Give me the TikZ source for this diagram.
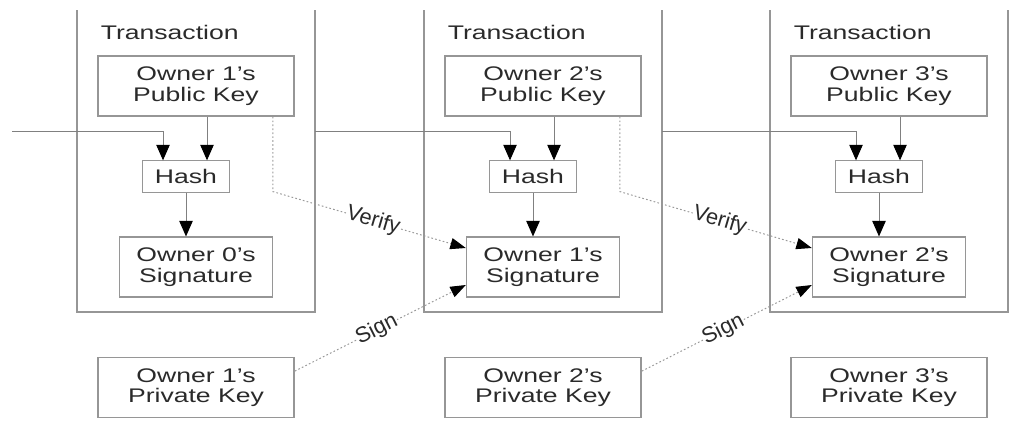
\documentclass[tikz,border=0pt]{standalone}
\usepackage{fontspec}
\setmainfont{Liberation Sans}
\usetikzlibrary{arrows.meta,calc}
\definecolor{linegray}{HTML}{808080}
\definecolor{boxgray}{HTML}{969696}
\definecolor{textgray}{HTML}{2A2A2A}
\tikzset{
  box/.style={draw=boxgray, line width=0.8pt, text=textgray, align=center,
    inner sep=0pt, xscale=1.35, font=\fontsize{14}{14.5}\selectfont},
  txframe/.style={draw=boxgray, line width=1pt},
  tree/.style={draw=linegray, line width=0.7pt,
    -{Triangle[length=11pt,width=9.5pt,color=black]}},
  check/.style={draw=linegray!80, line width=0.7pt, dash pattern=on 1.2pt off 1.6pt,
    -{Triangle[length=11pt,width=8pt,color=black]}},
  lbl/.style={sloped, fill=white, inner sep=0.5pt, text=textgray,
    font=\fontsize{15.5}{15.5}\selectfont}
}

\begin{document}
\begin{tikzpicture}[x=0.025cm, y=-0.025cm]
\useasboundingbox (0,0) rectangle (1013,424);
\coordinate (out0) at (12,131);
\foreach \n/\cx [evaluate=\n as \prev using int(\n-1)] in {1/196, 2/543, 3/889}
{
  % transaction frame, open at the top
  \draw[txframe] (\cx-119,10) |- (\cx+119,312) -- (\cx+119,10);
  \node[box, draw=none, anchor=west] (tx\n) at (\cx-96,32) {Transaction};
  \node[box, minimum width=3.63cm, minimum height=1.5cm] (pk\n) at (\cx,86) {Owner \n's\\Public Key};
  \node[box, minimum width=1.61cm, minimum height=0.78cm] (hash\n) at (\cx-10,176.5) {Hash};
  \node[box, minimum width=2.83cm, minimum height=1.5cm] (sig\prev) at (\cx,267) {Owner \prev's\\Signature};
  \node[box, minimum width=3.63cm, minimum height=1.52cm] (priv\n) at (\cx,387.5) {Owner \n's\\Private Key};
  \coordinate (out\n) at (\cx+119,131);
  \coordinate (hl\n) at ($(hash\n.north)+(-23,0)$);
  \coordinate (hr\n) at ($(hash\n.north)+(21,0)$);
  \draw[tree] (out\prev) -| (hl\n);
  \draw[tree] (pk\n.south -| hr\n) -- (hr\n);
  \draw[tree] (hash\n.south) -- (hash\n.south |- sig\prev.north);
}
% signing and verifying
\foreach \n in {1,2}
{
  \coordinate (vt\n) at ($(pk\n.south east)+(-22,0)$);
  \coordinate (vb\n) at ($(vt\n)+(0,75)$);
  \draw[check] (vt\n) -- (vb\n) -- node[lbl, pos=0.52] {Verify} ([yshift=0.475cm]sig\n.west);
  \draw[check] ([yshift=0.41cm]priv\n.east) -- node[lbl, pos=0.48] {Sign} ([yshift=-0.45cm]sig\n.west);
}
\end{tikzpicture}
\end{document}
